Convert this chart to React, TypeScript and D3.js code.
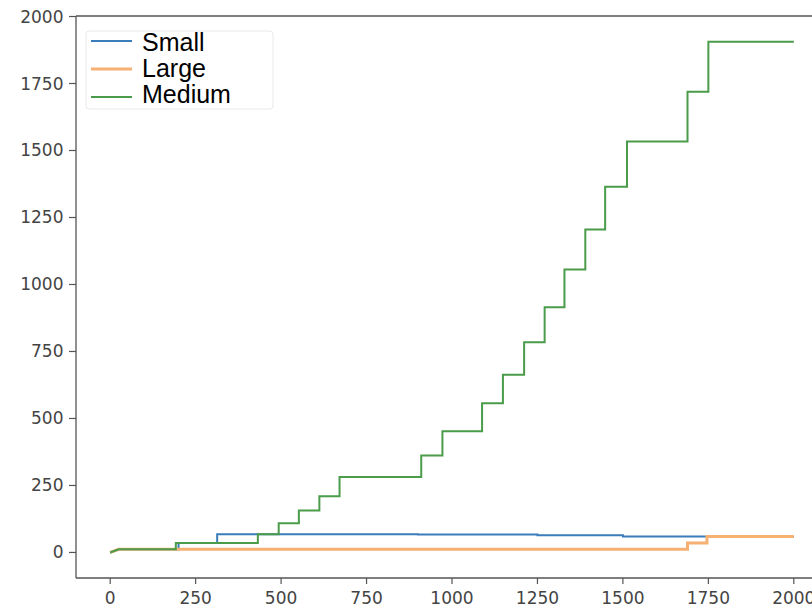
import * as d3 from "d3";
import { useEffect, useRef } from "react";

// Step series: x where the value changes, value after the change.
const smallX = [0, 25, 200, 313, 900, 1250, 1500, 1750, 2000];
const smallY = [0, 12, 35, 68, 67, 64, 60, 58, 58];

const largeX = [0, 25, 1689, 1746, 2000];
const largeY = [0, 12, 35, 60, 60];

const mediumX = [
  0, 25, 192, 432, 493, 552, 612, 671, 910, 972, 1088, 1149, 1211, 1271, 1329,
  1390, 1448, 1512, 1689, 1750, 2000,
];
const mediumY = [
  0, 12, 35, 68, 109, 157, 210, 282, 362, 452, 557, 663, 784, 915, 1056, 1205,
  1365, 1534, 1719, 1906, 1906,
];

const seriesNames = ["Small", "Large", "Medium"];
const seriesColors = ["#3b7dbb", "#f5b072", "#4a9c4a"];
const seriesWidths = [2, 3, 2];

const xTicks = [0, 250, 500, 750, 1000, 1250, 1500, 1750, 2000];
const yTicks = [0, 250, 500, 750, 1000, 1250, 1500, 1750, 2000];

export default function App() {
  const svgRef = useRef<SVGSVGElement>(null);
  const w = 812;
  const h = 607;

  useEffect(() => {
    if (!svgRef.current) return;
    const svg = d3.select(svgRef.current);
    svg.selectAll("*").remove();

    // axes box runs past the right edge of the picture, like the cropped original
    const left = 76;
    const right = 828;
    const top = 16;
    const bottom = 578;

    const x = d3.scaleLinear().domain([-100, 2100]).range([left, right]);
    const y = d3.scaleLinear().domain([-95.3, 2001.9]).range([bottom, top]);

    svg.append("rect").attr("width", w).attr("height", h).attr("fill", "#fff");

    const series = [
      { xs: smallX, ys: smallY },
      { xs: largeX, ys: largeY },
      { xs: mediumX, ys: mediumY },
    ];

    // first segment is a short ramp, the rest are steps
    const line = d3
      .line<[number, number]>()
      .x((d) => x(d[0]))
      .y((d) => y(d[1]))
      .curve(d3.curveStepAfter);
    const ramp = d3
      .line<[number, number]>()
      .x((d) => x(d[0]))
      .y((d) => y(d[1]));

    series.forEach((s, i) => {
      const pts = s.xs.map((v, j) => [v, s.ys[j]] as [number, number]);
      const d = (ramp(pts.slice(0, 2)) ?? "") + (line(pts.slice(1)) ?? "").replace(/^M/, "L");
      svg
        .append("path")
        .attr("d", d)
        .attr("fill", "none")
        .attr("stroke", seriesColors[i])
        .attr("stroke-width", seriesWidths[i])
        .attr("stroke-linejoin", "miter");
    });

    // spines
    const spine = "#555";
    svg.append("line").attr("x1", left).attr("x2", left).attr("y1", top).attr("y2", bottom)
      .attr("stroke", spine).attr("stroke-width", 1.3);
    svg.append("line").attr("x1", left).attr("x2", right).attr("y1", bottom).attr("y2", bottom)
      .attr("stroke", spine).attr("stroke-width", 1.3);
    svg.append("line").attr("x1", left).attr("x2", right).attr("y1", top).attr("y2", top)
      .attr("stroke", spine).attr("stroke-width", 1.3);

    const font = "'DejaVu Sans', sans-serif";

    xTicks.forEach((t) => {
      svg.append("line").attr("x1", x(t)).attr("x2", x(t)).attr("y1", bottom).attr("y2", bottom + 6)
        .attr("stroke", spine).attr("stroke-width", 1.2);
      svg.append("text")
        .attr("x", x(t))
        .attr("y", 604)
        .attr("text-anchor", "middle")
        .attr("font-family", font)
        .attr("font-size", 17)
        .attr("fill", "#444")
        .text(t);
    });

    yTicks.forEach((t) => {
      svg.append("line").attr("x1", left - 7).attr("x2", left).attr("y1", y(t)).attr("y2", y(t))
        .attr("stroke", spine).attr("stroke-width", 1.2);
      svg.append("text")
        .attr("x", 63.5)
        .attr("y", y(t))
        .attr("text-anchor", "end")
        .attr("dominant-baseline", "central")
        .attr("font-family", font)
        .attr("font-size", 17)
        .attr("fill", "#444")
        .text(t);
    });

    // legend
    svg.append("rect")
      .attr("x", 86).attr("y", 31).attr("width", 187).attr("height", 78)
      .attr("rx", 3)
      .attr("fill", "#fff").attr("fill-opacity", 0.8)
      .attr("stroke", "#e8e8e8").attr("stroke-width", 1);

    const rowLine = [41, 69, 97];
    const rowText = [51, 77, 103];
    seriesNames.forEach((name, i) => {
      svg.append("line")
        .attr("x1", 91).attr("x2", 132)
        .attr("y1", rowLine[i]).attr("y2", rowLine[i])
        .attr("stroke", seriesColors[i])
        .attr("stroke-width", seriesWidths[i]);
      svg.append("text")
        .attr("x", 142)
        .attr("y", rowText[i])
        .attr("font-family", "'Liberation Sans', Arial, sans-serif")
        .attr("font-size", 25)
        .attr("fill", "#000")
        .text(name);
    });
  }, []);

  return (
    <svg
      ref={svgRef}
      width={w}
      height={h}
      viewBox={`0 0 ${w} ${h}`}
      style={{ position: "absolute", left: 0, top: 0, display: "block" }}
    />
  );
}
